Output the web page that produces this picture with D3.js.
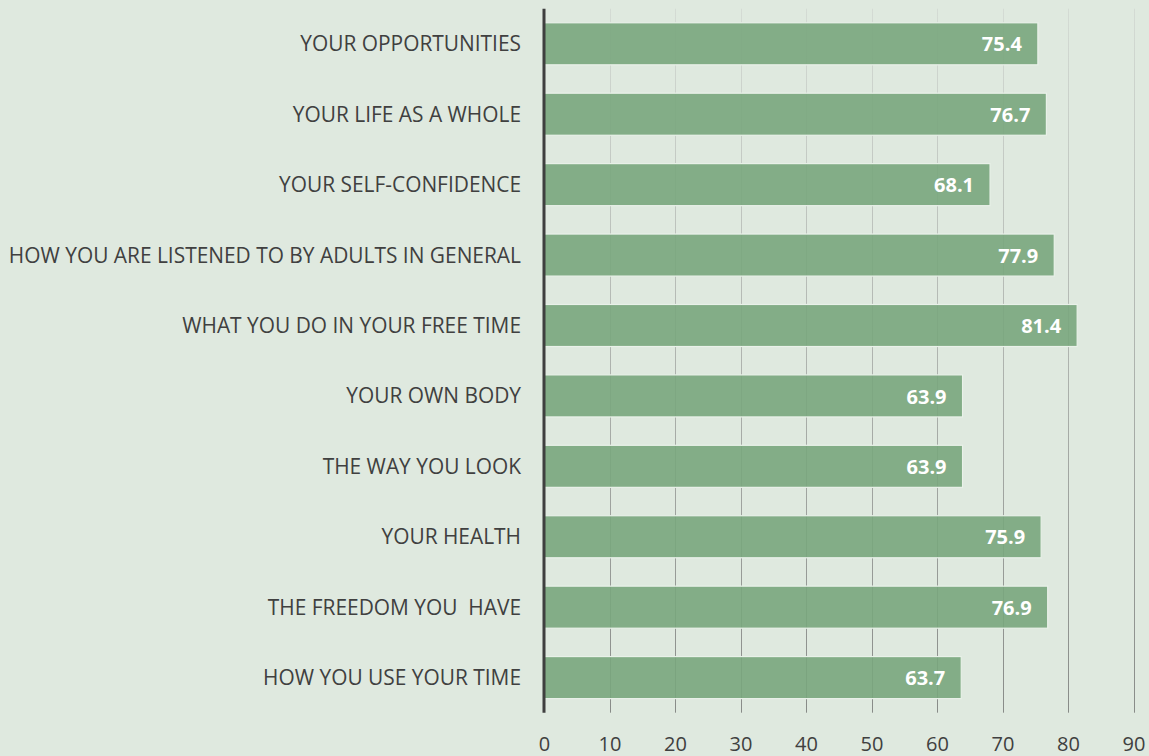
<!DOCTYPE html>
<html><head><meta charset="utf-8">
<script src="https://cdn.jsdelivr.net/npm/d3@7"></script>
<style>
html,body{margin:0;padding:0;background:#dfe9df;}
svg{display:block;}
text{white-space:pre;}
</style></head>
<body>
<svg id="chart" width="1149" height="756"></svg>
<script>
const categories = [
  "YOUR OPPORTUNITIES",
  "YOUR LIFE AS A WHOLE",
  "YOUR SELF-CONFIDENCE",
  "HOW YOU ARE LISTENED TO BY ADULTS IN GENERAL",
  "WHAT YOU DO IN YOUR FREE TIME",
  "YOUR OWN BODY",
  "THE WAY YOU LOOK",
  "YOUR HEALTH",
  "THE FREEDOM YOU  HAVE",
  "HOW YOU USE YOUR TIME"
];
const values = [75.4, 76.7, 68.1, 77.9, 81.4, 63.9, 63.9, 75.9, 76.9, 63.7];
const tickValues = [0, 10, 20, 30, 40, 50, 60, 70, 80, 90];

const svg = d3.select("#chart");
const W = 1149, H = 756;
svg.append("rect").attr("width", W).attr("height", H).attr("fill", "#dfe9df");

const x = d3.scaleLinear().domain([0, 90]).range([544, 1133.5]);
const y = d3.scaleBand().domain(categories).range([8.7, 712.7]).paddingInner(0.403).paddingOuter(0.2);

const defs = svg.append("defs");
const grad = defs.append("linearGradient").attr("id", "gridGrad")
  .attr("gradientUnits", "userSpaceOnUse")
  .attr("x1", 0).attr("y1", 9).attr("x2", 0).attr("y2", 713);
grad.append("stop").attr("offset", "0%").attr("stop-color", "#d4dbd4");
grad.append("stop").attr("offset", "100%").attr("stop-color", "#888b88");

// gridlines
svg.append("g").selectAll("line").data(tickValues.filter(d => d > 0)).join("line")
  .attr("x1", d => Math.round(x(d)) + 0.5).attr("x2", d => Math.round(x(d)) + 0.5)
  .attr("y1", 8.7).attr("y2", 712.7)
  .attr("stroke", "url(#gridGrad)").attr("stroke-width", 1);

// bars
svg.append("g").selectAll("rect").data(values).join("rect")
  .attr("x", x(0))
  .attr("y", (d, i) => y(categories[i]))
  .attr("width", d => x(d) - x(0))
  .attr("height", y.bandwidth())
  .attr("fill", "rgb(121,166,125)")
  .attr("fill-opacity", 0.9)
  .attr("stroke", "#e9f1e9")
  .attr("stroke-width", 1.2);

// value labels
svg.append("g").selectAll("text").data(values).join("text")
  .attr("x", d => x(d) - 16)
  .attr("y", (d, i) => y(categories[i]) + y.bandwidth() / 2)
  .attr("dy", "0.38em")
  .attr("text-anchor", "end")
  .attr("font-family", "'Open Sans', 'Liberation Sans', sans-serif")
  .attr("font-weight", "bold")
  .attr("font-size", 20)
  .attr("fill", "#ffffff")
  .text(d => d.toFixed(1));

// category labels
svg.append("g").selectAll("text").data(categories).join("text")
  .attr("x", 521)
  .attr("y", d => y(d) + y.bandwidth() / 2)
  .attr("dy", "0.36em")
  .attr("text-anchor", "end")
  .attr("font-family", "'Open Sans', 'Liberation Sans', sans-serif")
  .attr("font-size", 20.9)
  .attr("fill", "#404040")
  .text(d => d);

// x tick labels
const xAxis = d3.axisBottom(x).tickValues(tickValues).tickSize(0).tickPadding(0).tickFormat(d3.format("d"));
const gx = svg.append("g").attr("transform", "translate(0,751)").call(xAxis);
gx.select(".domain").remove();
gx.selectAll("text")
  .attr("dy", "0")
  .attr("font-family", "'Open Sans', 'Liberation Sans', sans-serif")
  .attr("font-size", 20)
  .attr("fill", "#404040");

// vertical axis line
svg.append("line")
  .attr("x1", x(0)).attr("x2", x(0))
  .attr("y1", 8.7).attr("y2", 712.7)
  .attr("stroke", "#3f3f3f").attr("stroke-width", 3);
</script>
</body></html>
